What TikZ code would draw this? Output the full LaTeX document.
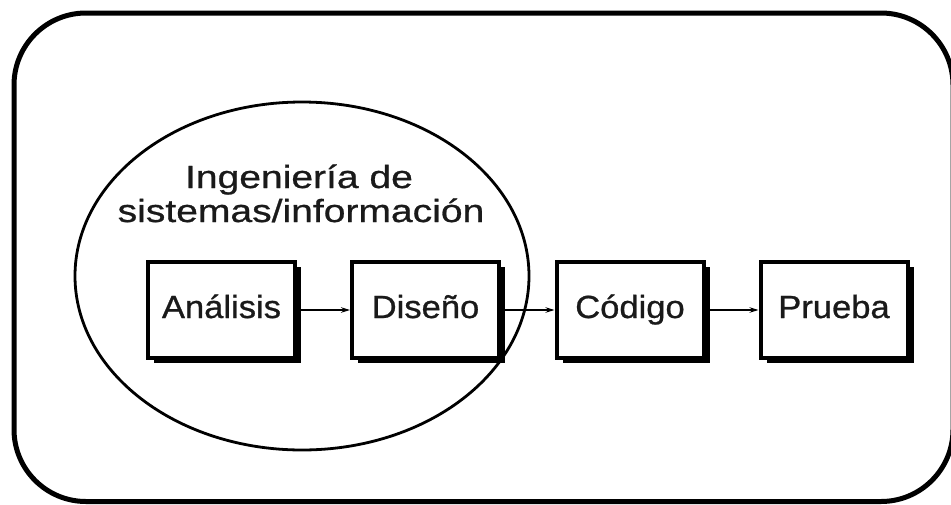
\documentclass[tikz,border=0pt]{standalone}
\usepackage{fontspec}
\setmainfont{Liberation Sans}
\newfontfamily\titlefont[FakeStretch=1.22,FakeBold=0.8]{Liberation Sans}
\newfontfamily\boxfont[FakeStretch=1.08,FakeBold=0.8]{Liberation Sans}
\usetikzlibrary{arrows.meta,shadows,shapes.geometric}
\definecolor{ink}{HTML}{1A1A1A}
\tikzset{
  stepbox/.style={draw=black, line width=4pt, fill=white, minimum width=147pt,
    minimum height=96pt, inner sep=0pt, text height=23pt, text depth=7pt,
    text=ink, font=\boxfont\fontsize{32}{38}\selectfont,
    drop shadow={shadow xshift=6pt, shadow yshift=-5pt, fill=black, opacity=1}},
  titletext/.style={inner sep=0pt, anchor=base, text=ink, font=\titlefont\fontsize{32}{38}\selectfont},
  arr/.style={draw=black, line width=1.4pt, -{Stealth[length=9pt,width=5.5pt]}},
  frame/.style={draw=black, line width=5pt, rounded corners=72pt},
  sysellipse/.style={ellipse, draw=black, line width=2.8pt, minimum width=454pt, minimum height=348pt, inner sep=0pt}
}
\begin{document}
\begin{tikzpicture}[x=1pt,y=-1pt]
\useasboundingbox (0,0) rectangle (951,504);
\begin{scope}
  \clip (0,0) rectangle (951,504);
  \draw[frame] (14,13) rectangle (953,501.5);
\end{scope}

\node[stepbox] (a) at (221.5,310) {Análisis};
\node[stepbox] (d) at (425.5,310) {Diseño};
\node[stepbox] (c) at (630,310) {Código};
\node[stepbox] (p) at (834,310) {Prueba};

\draw[arr] (a.east) -- (d.west);
\draw[arr] (d.east) -- (c.west);
\draw[arr] (c.east) -- (p.west);

\node[sysellipse] (sys) at (302,276) {};

\node[titletext] (t1) at (299,188) {Ingeniería de};
\node[titletext] (t2) at (301,222) {sistemas/información};
\end{tikzpicture}
\end{document}
